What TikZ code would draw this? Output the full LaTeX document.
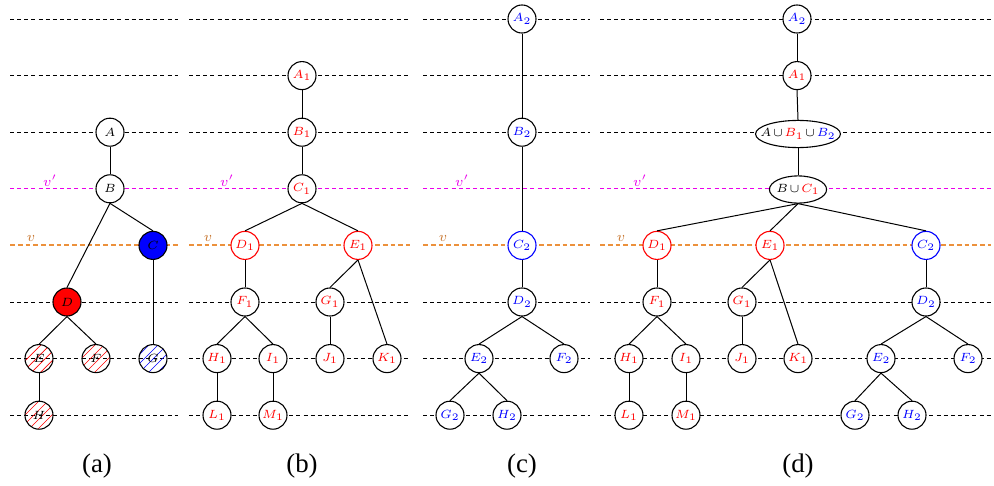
\documentclass[tikz,border=0pt]{standalone}
\usepackage{fontspec}
\newfontfamily\capfont{Liberation Serif}
\usetikzlibrary{shapes.geometric,patterns.meta}
\definecolor{vorange}{RGB}{236,145,60}
\definecolor{vlab}{RGB}{200,120,50}
\definecolor{vmag}{RGB}{235,0,235}
\begin{document}
\begin{tikzpicture}[x=0.01767cm,y=-0.01767cm,
  base/.style={circle,draw,line width=0.55pt,minimum size=0.495cm,inner sep=0pt,font=\fontsize{6}{7}\selectfont},
  nd/.style={base,fill=white},
  hr/.style={base,pattern={Lines[angle=45,distance=3.2pt,line width=0.35pt]},pattern color=red},
  hb/.style={base,pattern={Lines[angle=45,distance=3.2pt,line width=0.35pt]},pattern color=blue},
  el/.style={ellipse,draw,line width=0.55pt,minimum height=0.48cm,inner sep=0pt,fill=white},
  eltxt/.style={inner sep=0pt,font=\fontsize{6}{7}\selectfont},
  ed/.style={line width=0.5pt},
  gl/.style={dash pattern=on 2pt off 1.6pt,line width=0.45pt},
  ml/.style={dash pattern=on 2pt off 1.6pt,line width=0.5pt,color=vmag},
  ol/.style={dash pattern=on 2.4pt off 1.5pt,line width=1pt,color=vorange},
  vl/.style={font=\fontsize{6.8}{7}\selectfont},
  captxt/.style={font=\capfont\fontsize{13.5}{16}\selectfont}]
\useasboundingbox (0,0) rectangle (994,485);
% dashed level lines
\foreach \xa/\xb in {10/178,189/410,423/590,600/991}{
  \foreach \yy in {19,75.6,132.2,302,358.6,415.2}{
    \draw[gl] (\xa,\yy) -- (\xb,\yy);
  }
  \draw[ml] (\xa,188.8) -- (\xb,188.8);
  \draw[ol] (\xa,245.4) -- (\xb,245.4);
}
% v labels
\foreach \xx/\name in {50/a,227/b,462/c,640/d}{
  \node[vl,text=vmag] (vp\name) at (\xx,181) {$v'$};
}
\foreach \xx/\name in {31/a,208/b,443/c,621/d}{
  \node[vl,text=vlab] (v\name) at (\xx,238) {$v$};
}
% ---------- (a)
\node[nd] (aA) at (110,132.2) {$A$};
\node[nd] (aB) at (110,188.8) {$B$};
\node[nd,fill=blue] (aC) at (153,245.4) {$C$};
\node[nd,fill=red] (aD) at (67,302) {$D$};
\node[hr] (aE) at (39,358.6) {$E$};
\node[hr] (aF) at (96,358.6) {$F$};
\node[hb] (aG) at (153,358.6) {$G$};
\node[hr] (aH) at (39,415.2) {$H$};
\foreach \p/\c in {aA/aB,aB/aD,aB/aC,aC/aG,aD/aE,aD/aF,aE/aH}{
  \draw[ed] (\p.south) -- (\c.north);
}
% ---------- (b)
\begin{scope}[every node/.append style={text=red}]
\node[nd] (bA1) at (302,75.6) {$A_1$};
\node[nd] (bB1) at (302,132.2) {$B_1$};
\node[nd] (bC1) at (302,188.8) {$C_1$};
\node[nd,draw=red] (bD1) at (245,245.4) {$D_1$};
\node[nd,draw=red] (bE1) at (358,245.4) {$E_1$};
\node[nd] (bF1) at (245,302) {$F_1$};
\node[nd] (bG1) at (330,302) {$G_1$};
\node[nd] (bH1) at (217,358.6) {$H_1$};
\node[nd] (bI1) at (273,358.6) {$I_1$};
\node[nd] (bJ1) at (330,358.6) {$J_1$};
\node[nd] (bK1) at (387,358.6) {$K_1$};
\node[nd] (bL1) at (217,415.2) {$L_1$};
\node[nd] (bM1) at (273,415.2) {$M_1$};
\end{scope}
\foreach \p/\c in {bA1/bB1,bB1/bC1,bC1/bD1,bC1/bE1,bD1/bF1,bE1/bG1,bE1/bK1,bF1/bH1,bF1/bI1,bG1/bJ1,bH1/bL1,bI1/bM1}{
  \draw[ed] (\p.south) -- (\c.north);
}
% ---------- (c)
\begin{scope}[every node/.append style={text=blue}]
\node[nd] (cA2) at (522,19) {$A_2$};
\node[nd] (cB2) at (522,132.2) {$B_2$};
\node[nd,draw=blue] (cC2) at (522,245.4) {$C_2$};
\node[nd] (cD2) at (522,302) {$D_2$};
\node[nd] (cE2) at (479,358.6) {$E_2$};
\node[nd] (cF2) at (564,358.6) {$F_2$};
\node[nd] (cG2) at (450,415.2) {$G_2$};
\node[nd] (cH2) at (507,415.2) {$H_2$};
\end{scope}
\foreach \p/\c in {cA2/cB2,cB2/cC2,cC2/cD2,cD2/cE2,cD2/cF2,cE2/cG2,cE2/cH2}{
  \draw[ed] (\p.south) -- (\c.north);
}
% ---------- (d)
\node[nd,text=blue] (dA2) at (797,19) {$A_2$};
\node[nd,text=red] (dA1) at (797,75.6) {$A_1$};
\node[el,minimum width=1.5cm] (dU1) at (798,134) {};
\node[eltxt] (dU1t) at (dU1.center) {$\medmuskip=2mu\relax A\cup{\color{red}B_1}\cup{\color{blue}B_2}$};
\node[el,minimum width=1.01cm] (dU2) at (798,189.5) {};
\node[eltxt] (dU2t) at (dU2.center) {$\medmuskip=2mu\relax B\cup{\color{red}C_1}$};
\begin{scope}[every node/.append style={text=red}]
\node[nd,draw=red] (dD1) at (657,245.4) {$D_1$};
\node[nd,draw=red] (dE1) at (770,245.4) {$E_1$};
\node[nd] (dF1) at (657,302) {$F_1$};
\node[nd] (dG1) at (742,302) {$G_1$};
\node[nd] (dH1) at (629,358.6) {$H_1$};
\node[nd] (dI1) at (686,358.6) {$I_1$};
\node[nd] (dJ1) at (742,358.6) {$J_1$};
\node[nd] (dK1) at (798,358.6) {$K_1$};
\node[nd] (dL1) at (629,415.2) {$L_1$};
\node[nd] (dM1) at (686,415.2) {$M_1$};
\end{scope}
\begin{scope}[every node/.append style={text=blue}]
\node[nd,draw=blue] (dC2) at (926,245.4) {$C_2$};
\node[nd] (dD2) at (926,302) {$D_2$};
\node[nd] (dE2) at (881,358.6) {$E_2$};
\node[nd] (dF2) at (968,358.6) {$F_2$};
\node[nd] (dG2) at (855,415.2) {$G_2$};
\node[nd] (dH2) at (912,415.2) {$H_2$};
\end{scope}
\foreach \p/\c in {dA2/dA1,dA1/dU1,dU1/dU2,dU2/dD1,dU2/dE1,dU2/dC2,dD1/dF1,dE1/dG1,dE1/dK1,dF1/dH1,dF1/dI1,dG1/dJ1,dH1/dL1,dI1/dM1,dC2/dD2,dD2/dE2,dD2/dF2,dE2/dG2,dE2/dH2}{
  \draw[ed] (\p.south) -- (\c.north);
}
% captions
\node[captxt] (capa) at (97,466) {(a)};
\node[captxt] (capb) at (302,466) {(b)};
\node[captxt] (capc) at (522,466) {(c)};
\node[captxt] (capd) at (798,466) {(d)};
\end{tikzpicture}
\end{document}
